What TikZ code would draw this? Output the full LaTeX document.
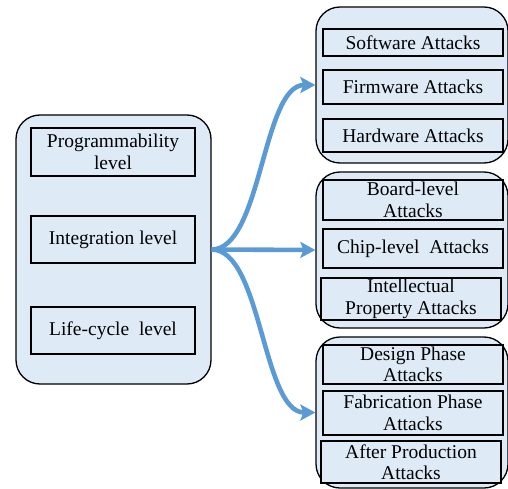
\documentclass[tikz,border=0pt]{standalone}
\usepackage{fontspec}
\setmainfont{Liberation Serif}
\newfontfamily\diagfont{Liberation Serif}
\usetikzlibrary{arrows.meta}
\definecolor{boxfill}{HTML}{DEEBF7}
\definecolor{arrowblue}{HTML}{5B9BD5}
\tikzset{
  outerbox/.style={draw=black, line width=1.3pt, fill=boxfill, rounded corners=24pt, inner sep=0pt},
  innerbox/.style={draw=black, line width=1.2pt, fill=boxfill, inner sep=0pt, align=center,
    font=\diagfont\fontsize{19.5}{21.5}\selectfont},
  flow/.style={draw=arrowblue, line width=4.6pt, -{Stealth[length=15pt,width=16pt,inset=3pt]}}
}
\begin{document}
\begin{tikzpicture}[x=1pt,y=-1pt]
\useasboundingbox (0,0) rectangle (508,489);
% left panel
\node[outerbox, minimum width=195pt, minimum height=269pt] (L) at (113.5,249.5) {};
\node[innerbox, minimum width=164pt, minimum height=48pt] (prog) at (113,152) {Programmability\\level};
\node[innerbox, minimum width=164pt, minimum height=47pt] (integ) at (113,239.5) {Integration level};
\node[innerbox, minimum width=164pt, minimum height=47pt] (life) at (113,330.5) {Life-cycle\ \ level};
% right panel 1
\node[outerbox, minimum width=192pt, minimum height=156pt] (P1) at (412,85) {};
\node[innerbox, minimum width=180pt, minimum height=27pt] (soft) at (413,42.5) {Software Attacks};
\node[innerbox, minimum width=180pt, minimum height=34pt] (firm) at (413,87) {Firmware Attacks};
\node[innerbox, minimum width=180pt, minimum height=33pt] (hard) at (413,135.5) {Hardware Attacks};
% right panel 2
\node[outerbox, minimum width=192pt, minimum height=156pt] (P2) at (412,250) {};
\node[innerbox, minimum width=180pt, minimum height=40pt] (board) at (413,200) {Board-level\\Attacks};
\node[innerbox, minimum width=180pt, minimum height=39pt] (chip) at (413,248.5) {Chip-level\ \ Attacks};
\node[innerbox, minimum width=180pt, minimum height=42pt] (ip) at (411,299) {Intellectual\\Property Attacks};
% right panel 3
\node[outerbox, minimum width=192pt, minimum height=151pt] (P3) at (412,412.5) {};
\node[innerbox, minimum width=180pt, minimum height=39pt] (design) at (413,364.5) {Design Phase\\Attacks};
\node[innerbox, minimum width=180pt, minimum height=44pt] (fab) at (413,413) {Fabrication Phase\\Attacks};
\node[innerbox, minimum width=180pt, minimum height=42pt] (after) at (411,462) {After Production\\Attacks};
% arrows
\draw[flow] (L.east) .. controls +(50,0) and +(-53,0) .. (P1.west);
\draw[flow] (L.east) -- (P2.west);
\draw[flow] (L.east) .. controls +(50,0) and +(-53,0) .. (P3.west);
\end{tikzpicture}
\end{document}
